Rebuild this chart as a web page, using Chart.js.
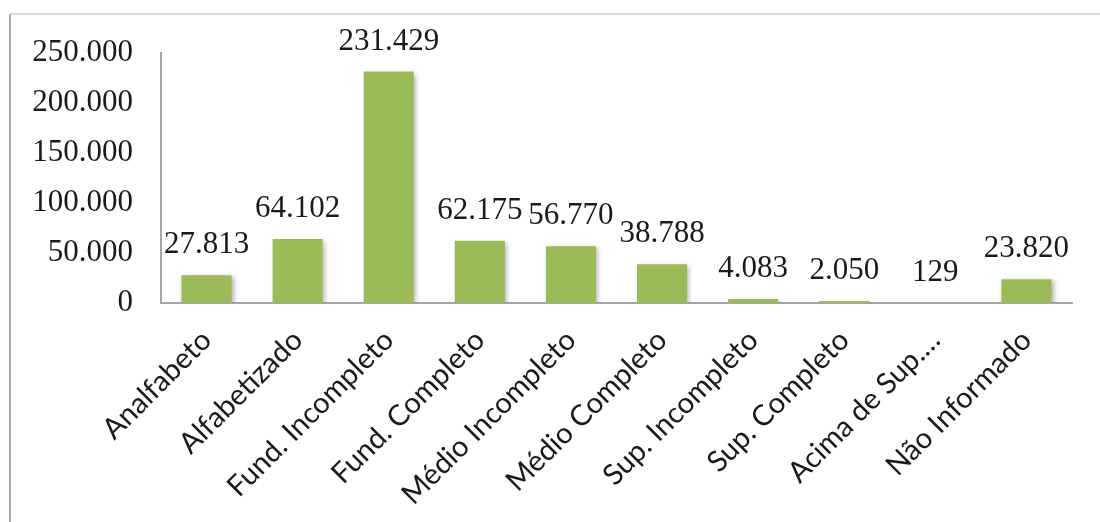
<!DOCTYPE html>
<html>
<head>
<meta charset="utf-8">
<script src="https://cdn.jsdelivr.net/npm/chart.js@4"></script>
<style>
  html, body { margin: 0; padding: 0; background: #fff; }
  #wrap { width: 1100px; height: 522px; }
</style>
</head>
<body>
<div id="wrap"><canvas id="escolaridadeChart" width="1100" height="522"></canvas></div>
<script>
const categories = ['Analfabeto', 'Alfabetizado', 'Fund. Incompleto', 'Fund. Completo', 'Médio Incompleto',
    'Médio Completo', 'Sup. Incompleto', 'Sup. Completo', 'Acima de Sup.…', 'Não Informado'];
const totals = [27813, 64102, 231429, 62175, 56770, 38788, 4083, 2050, 129, 23820];
const yTicks = [0, 50000, 100000, 150000, 200000, 250000];

// 231429 -> "231.429"
function fmt(v) {
    return String(v).replace(/\B(?=(\d{3})+(?!\d))/g, '.');
}

const serif = '"Liberation Serif", "DejaVu Serif", serif';

// light frame round the chart (top and left edges)
const framePlugin = {
    id: 'frame',
    beforeDraw(chart) {
        const ctx = chart.ctx;
        ctx.save();
        ctx.lineWidth = 2;
        ctx.strokeStyle = '#d9d9d9';
        ctx.beginPath();
        ctx.moveTo(10, 14);
        ctx.lineTo(1100, 14);
        ctx.stroke();
        ctx.strokeStyle = '#a8a8a8';
        ctx.beginPath();
        ctx.moveTo(10, 14);
        ctx.lineTo(10, 522);
        ctx.stroke();
        ctx.restore();
    }
};

// soft shadow behind the bars
const shadowPlugin = {
    id: 'barShadow',
    beforeDatasetsDraw(chart) {
        const ctx = chart.ctx;
        ctx.save();
        ctx.shadowColor = 'rgba(0,0,0,0.3)';
        ctx.shadowBlur = 5;
        ctx.shadowOffsetX = 2;
        ctx.shadowOffsetY = 2;
    },
    afterDatasetsDraw(chart) {
        chart.ctx.restore();
    }
};

// value labels above each bar
const valueLabels = {
    id: 'valueLabels',
    afterDatasetsDraw(chart) {
        const ctx = chart.ctx;
        const meta = chart.getDatasetMeta(0);
        ctx.save();
        ctx.font = '31px ' + serif;
        ctx.fillStyle = '#1a1a1a';
        ctx.textAlign = 'center';
        ctx.textBaseline = 'alphabetic';
        meta.data.forEach((bar, i) => {
            ctx.fillText(fmt(totals[i]), bar.x, bar.y - 22);
        });
        ctx.restore();
    }
};

const ctx = document.getElementById('escolaridadeChart').getContext('2d');
const chart = new Chart(ctx, {
    type: 'bar',
    data: {
        labels: categories,
        datasets: [{
            data: totals,
            backgroundColor: '#9bbb59',
            borderWidth: 0,
            categoryPercentage: 1,
            barPercentage: 0.55
        }]
    },
    options: {
        responsive: false,
        animation: false,
        layout: { padding: { top: 53, right: 28, left: 0, bottom: 0 } },
        plugins: {
            legend: { display: false },
            tooltip: { enabled: false }
        },
        scales: {
            x: {
                grid: { display: false, drawTicks: false },
                border: { display: true, color: '#a6a6a6', width: 2 },
                ticks: {
                    minRotation: 45,
                    maxRotation: 45,
                    padding: 20,
                    color: '#1a1a1a',
                    font: { family: 'Lato, "Open Sans", sans-serif', size: 29 }
                },
                afterFit(scale) { scale.height = 219; }
            },
            y: {
                min: 0,
                max: 250000,
                grid: { display: false, drawTicks: false },
                border: { display: true, color: '#a6a6a6', width: 2 },
                afterBuildTicks(scale) {
                    scale.ticks = yTicks.map(v => ({ value: v }));
                },
                ticks: {
                    padding: 28,
                    color: '#1a1a1a',
                    font: { family: serif, size: 31 },
                    callback: (v) => fmt(v)
                },
                afterFit(scale) { scale.width = 161; }
            }
        }
    },
    plugins: [framePlugin, shadowPlugin, valueLabels]
});
</script>
</body>
</html>
